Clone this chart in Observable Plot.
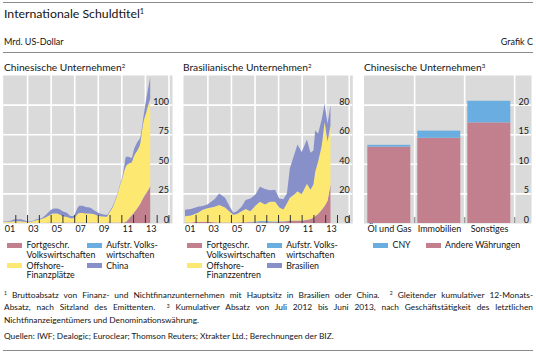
<!DOCTYPE html>
<html><head><meta charset="utf-8">
<script src="https://cdn.jsdelivr.net/npm/d3@7"></script>
<script src="https://cdn.jsdelivr.net/npm/@observablehq/plot@0.6"></script>
<style>
html,body{margin:0;padding:0;background:#fff;}
#root{position:relative;width:536px;height:354px;overflow:hidden;font-family:Lato,"Liberation Sans",sans-serif;color:#141414;}
.abs{position:absolute;white-space:nowrap;}
.rule{position:absolute;left:3px;width:530px;height:1px;background:#8a8a8a;}
.sup{position:relative;top:-0.5em;font-size:0.6em;}
.sw{position:absolute;width:15px;height:5px;}
.lg{position:absolute;font-size:8.8px;line-height:9.5px;white-space:nowrap;}
.fn{position:absolute;left:4px;width:529px;font-size:8.35px;line-height:11.8px;}
.fn div{text-align:justify;text-align-last:justify;white-space:nowrap;}
.fn div.last{text-align-last:left;}
.panel{position:absolute;top:70px;}
</style>
</head><body>
<div id="root">
  <div class="rule" style="top:2px"></div>
  <div class="abs" style="left:4px;top:7px;font-size:12.3px;line-height:14px">Internationale Schuldtitel<span class="sup">1</span></div>
  <div class="abs" style="left:4px;top:37px;font-size:9px;line-height:10px">Mrd. US-Dollar</div>
  <div class="abs" style="right:3px;top:37px;font-size:9px;line-height:10px">Grafik C</div>
  <div class="rule" style="top:52px"></div>
  <div class="abs" style="left:4px;top:61px;font-size:10.2px;line-height:12px">Chinesische Unternehmen<span class="sup">2</span></div>
  <div class="abs" style="left:183px;top:61px;font-size:10.2px;line-height:12px">Brasilianische Unternehmen<span class="sup">2</span></div>
  <div class="abs" style="left:364px;top:61px;font-size:10.2px;line-height:12px">Chinesische Unternehmen<span class="sup">3</span></div>
  <div class="panel" id="p1" style="left:0px"></div>
  <div class="panel" id="p2" style="left:180px"></div>
  <div class="panel" id="p3" style="left:361px"></div>
  <div id="legends"></div>
  <div class="fn" style="top:289.5px">
    <div><span class="sup">1</span> Bruttoabsatz von Finanz- und Nichtfinanzunternehmen mit Hauptsitz in Brasilien oder China. &nbsp;<span class="sup">2</span> Gleitender kumulativer 12-Monats-</div>
    <div>Absatz, nach Sitzland des Emittenten. &nbsp;<span class="sup">3</span> Kumulativer Absatz von Juli 2012 bis Juni 2013, nach Geschäftstätigkeit des letztlichen</div>
    <div class="last">Nichtfinanzeigentümers und Denominationswährung.</div>
  </div>
  <div class="fn" style="top:331px"><div class="last">Quellen: IWF; Dealogic; Euroclear; Thomson Reuters; Xtrakter Ltd.; Berechnungen der BIZ.</div></div>
  <div class="rule" style="top:350px"></div>
</div>
<script>
// ---------- DATA ----------
// Panel 1: Chinesische Unternehmen (gleitender kumulativer 12-Monats-Absatz, Mrd. USD)
const cnDates = [2001.0,2001.5,2001.9,2002.4,2002.8,2003.1,2003.5,2003.9,2004.3,2004.6,2004.9,2005.2,2005.5,2005.8,2006.1,2006.4,2006.7,2006.95,2007.2,2007.45,2007.7,2008.0,2008.3,2008.6,2008.9,2009.2,2009.5,2009.75,2010.0,2010.3,2010.6,2010.9,2011.1,2011.25,2011.4,2011.6,2011.85,2012.1,2012.4,2012.6,2012.85,2013.1,2013.3,2013.45];
const cnAdvanced = [0.3,0.3,0.3,0.3,0.2,0.2,0.2,0.3,0.3,0.3,0.4,0.5,0.5,0.5,0.5,0.5,0.4,0.4,0.5,0.5,0.5,0.5,0.5,0.4,0.3,0.3,0.3,0.3,0.4,0.4,0.5,0.5,0.5,0.6,1,3,6,9,13,16,21,25,28,31];
const cnEmerging = [0,0,0,0,0,0,0,0,0,0,0,0,0,0,0,0,0,0,0,0,0,0,0,0,0,0,0,0,0,0,0,0,0,0,0.3,0.3,0.3,0.3,0.3,0.3,0.3,0.3,0.3,0.3];
const cnOffshore = [0.7,0.7,1.2,1.2,0.8,0.6,1.3,2.2,3.2,4.5,6.1,7.5,7.5,6.5,5,4.5,3.6,3.6,6,8,8,7.5,7.5,7.1,6.2,5.5,5.2,5,8.6,13.6,21.5,31.5,37.5,43.4,46.7,46.7,44.7,47.7,48.7,50.7,62.7,67.7,71.7,73.7];
const cnChina = [0.5,0.7,1.5,1.7,1.2,0.5,0.5,0.8,1.0,2.2,3.5,4,4.3,4.5,4,3.5,2,2,4.5,6,6,5.5,5,4,3,2.2,1.7,1.5,1,1,1,1,2,4,8,6,4,6,7,5,4,11,15,18];
// Panel 2: Brasilianische Unternehmen
const brDates = [2001.1,2001.6,2002.2,2002.6,2003.0,2003.6,2004.0,2004.5,2004.9,2005.2,2005.5,2005.9,2006.25,2006.65,2007.1,2007.45,2007.9,2008.3,2008.75,2009.1,2009.45,2009.75,2010.0,2010.4,2010.65,2011.0,2011.45,2011.75,2012.0,2012.15,2012.4,2012.7,2012.95,2013.2,2013.45];
const brAdvanced = [0.3,0.3,0.8,0.8,0.8,0.5,0.4,0.3,0.3,0.3,0.3,0.5,0.5,0.5,0.5,0.5,0.5,0.5,0.5,0.8,1,1.2,1.5,1.5,1.5,1.5,2,2.5,3.5,4.5,6,8.8,11.5,15,26];
const brEmerging = [0,0,0,0,0,0,0,0,0,0,0,0,0,0.3,0.5,0.8,0.8,0.6,0.5,0.3,0.2,0.2,0.2,0.2,0.2,0.2,0.2,0.2,0.2,0.2,0.2,0.2,0.2,0.2,0.2];
const brOffshore = [4.2,4.7,6.2,8.2,9.2,10.5,11.7,10.2,7.3,5.2,5.7,7.5,9,7.2,10.8,13.1,11.2,13.2,13.4,9.4,8,11.8,15.3,17.8,19.8,17.8,24.4,19.8,22.3,29.8,35.3,43,56.3,39.8,39.8];
const brBrazil = [4.5,4.5,4,2.5,2.5,5,7.9,6.5,3.4,1.5,2,3,6,8.6,7.7,10.1,10.5,7.9,8.1,6,6.8,6.8,20,27.5,31.5,28.5,29.9,25,23,28,19,18,12.6,12,13.5];
// Panel 3: Chinesische Unternehmen, Juli 2012 - Juni 2013, nach Geschäftstätigkeit
const barCategories = ["Öl und Gas","Immobilien","Sonstiges"];
const barOther = [12.9,14.4,17.0];
const barCNY = [0.3,1.2,3.65];
// Labels / ticks
const cnSeries = ["Fortgeschr. Volkswirtschaften","Aufstr. Volkswirtschaften","Offshore-Finanzplätze","China"];
const brSeries = ["Fortgeschr. Volkswirtschaften","Aufstr. Volkswirtschaften","Offshore-Finanzzentren","Brasilien"];
const barSeries = ["Andere Währungen","CNY"];
const xTickLabels = ["01","03","05","07","09","11","13"];
const yTicksCN = [0,25,50,75,100];
const yTicksBR = [0,20,40,60,80];
const yTicksBar = [0,5,10,15,20];
const cnLegend = [["Fortgeschr.","Volkswirtschaften"],["Aufstr. Volks-","wirtschaften"],["Offshore-","Finanzplätze"],["China"]];
const brLegend = [["Fortgeschr.","Volkswirtschaften"],["Aufstr. Volks-","wirtschaften"],["Offshore-","Finanzzentren"],["Brasilien"]];
const barLegend = [["CNY"],["Andere Währungen"]];

// ---------- STYLE ----------
const RED="#c2808f", BLUE="#6aade0", YELLOW="#fde971", PURPLE="#8890c9", GRAY="#dadada";
const FONT = 'Lato, "Liberation Sans", sans-serif';

function longRows(dates, seriesNames, arrays){
  const rows=[];
  seriesNames.forEach((s,k)=>dates.forEach((d,i)=>rows.push({date:d, series:s, value:arrays[k][i]})));
  return rows;
}
const yearTicks = d3.range(2002, 2016);
const gridYears = [2003,2005,2007,2009,2011,2013,2015];
const labelPos = xTickLabels.map(l => 2000 + Number(l) + 0.5);

function timePanel(rows, series, ymax, yTicks, curve, dxLab, mL, mR){
  const innerH = 148;
  return Plot.plot({
    width:175, height:170, marginLeft:mL, marginRight:mR, marginTop:5, marginBottom:17,
    style:{background:"none", fontFamily:FONT, fontSize:"9px", color:"#141414", overflow:"visible"},
    x:{domain:[2000.93, 2015.3], label:null},
    y:{domain:[0, ymax], label:null},
    color:{domain:series, range:[RED,BLUE,YELLOW,PURPLE]},
    marks:[
      Plot.frame({fill:GRAY}),
      Plot.gridY(yTicks.slice(1), {stroke:"#fff", strokeOpacity:1, strokeWidth:1.6}),
      Plot.gridX(gridYears, {stroke:"#fff", strokeOpacity:1, strokeWidth:1.6}),
      Plot.areaY(rows, {x:"date", y:"value", fill:"series", order:series, curve}),
      Plot.ruleX(yearTicks, {x:d=>d, y1:0, y2:ymax*8/innerH, stroke:"#333", strokeWidth:1}),
      Plot.axisX(labelPos, {tickSize:0, tickPadding:2.5, tickFormat:d=>String(Math.floor(d)-2000).padStart(2,"0")}),
      Plot.axisY(yTicks, {anchor:"right", tickSize:0, tickPadding:0, dx:dxLab, dy:-0.5, textAnchor:"end", lineAnchor:"bottom"})
    ]
  });
}

const cnRows = longRows(cnDates, cnSeries, [cnAdvanced, cnEmerging, cnOffshore, cnChina]);
const brRows = longRows(brDates, brSeries, [brAdvanced, brEmerging, brOffshore, brBrazil]);
document.getElementById("p1").append(timePanel(cnRows, cnSeries, 125, yTicksCN, "monotone-x", -3.5, 2.7, 3));
document.getElementById("p2").append(timePanel(brRows, brSeries, 100, yTicksBR, "linear", -3, 3, 2.7));

// Bar panel
const barRows = [];
barCategories.forEach((c,i)=>{
  barRows.push({cat:c, series:"Andere Währungen", value:barOther[i]});
  barRows.push({cat:c, series:"CNY", value:barCNY[i]});
});
const bw = 50.3;
const p3 = Plot.plot({
  width:172, height:170, marginLeft:2.5, marginRight:2, marginTop:5, marginBottom:17,
  style:{background:"none", fontFamily:FONT, fontSize:"9px", color:"#141414", overflow:"visible"},
  x:{domain:barCategories, range:[2.5, 2.5+3*bw], padding:0, label:null},
  y:{domain:[0,25], label:null},
  color:{domain:barSeries, range:[RED, BLUE]},
  marks:[
    Plot.frame({fill:GRAY}),
    Plot.gridY(yTicksBar.slice(1), {stroke:"#fff", strokeOpacity:1, strokeWidth:1.6}),
    Plot.ruleX(barCategories, {x:d=>d, dx:bw/2, stroke:"#fff", strokeWidth:1.6}),
    Plot.barY(barRows, {x:"cat", y:"value", fill:"series", order:barSeries, insetLeft:3.3, insetRight:3.7}),
    Plot.ruleX(barCategories, {x:d=>d, dx:bw/2, y1:0, y2:25*6/148, stroke:"#9a9a9a", strokeWidth:1.5}),
    Plot.axisX(barCategories, {tickSize:0, tickPadding:2.5}),
    Plot.axisY(yTicksBar, {anchor:"right", tickSize:0, tickPadding:0, dx:-2.5, dy:-0.5, textAnchor:"end", lineAnchor:"bottom"})
  ]
});
document.getElementById("p3").append(p3);

// Legends
const L = document.getElementById("legends");
function legendItem(x, y, color, lines){
  const sw = document.createElement("div"); sw.className="sw";
  sw.style.left=x+"px"; sw.style.top=(y-2.5)+"px"; sw.style.background=color; L.append(sw);
  const t = document.createElement("div"); t.className="lg";
  t.style.left=(x+19.5)+"px"; t.style.top=(y-4.75)+"px";
  t.innerHTML = lines.join("<br>"); L.append(t);
}
const legCols = [RED, BLUE, YELLOW, PURPLE];
[[0,cnLegend],[180,brLegend]].forEach(([off, items])=>{
  legendItem(7+off, 245, legCols[0], items[0]);
  legendItem(86.7+off, 245, legCols[1], items[1]);
  legendItem(7+off, 265.5, legCols[2], items[2]);
  legendItem(86.7+off, 265.5, legCols[3], items[3]);
});
legendItem(373, 245, BLUE, barLegend[0]);
legendItem(425.5, 245, RED, barLegend[1]);
</script>
</body></html>
